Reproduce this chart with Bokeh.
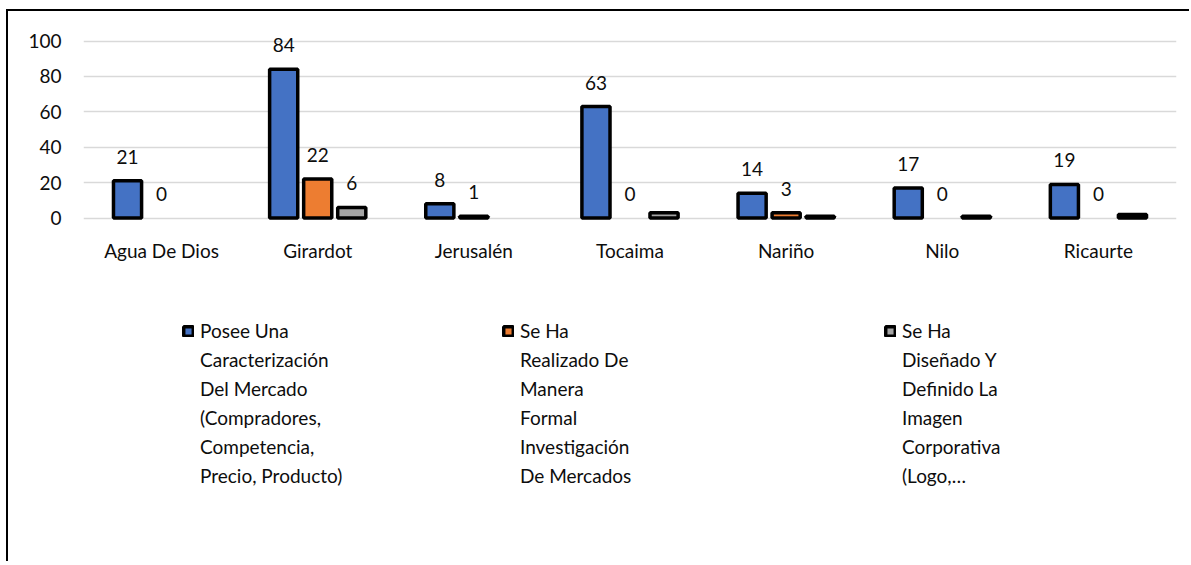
from bokeh.plotting import figure
from bokeh.models import (ColumnDataSource, FactorRange, Range1d, Legend, LegendItem,
                          FixedTicker)
from bokeh.transform import dodge
from bokeh.core.properties import value
from bokeh.embed import file_html
from bokeh.resources import INLINE

# Municipios y resultados por pregunta
municipios = ["Agua De Dios", "Girardot", "Jerusalén", "Tocaima", "Nariño", "Nilo", "Ricaurte"]
caracterizacion = [21, 84, 8, 63, 14, 17, 19]
investigacion = [0, 22, 1, 0, 3, 0, 0]
imagen = [None, 6, None, 3, 1, 1, 2]
imagen_etiquetas = ["", "6", "", "", "", "", ""]
marcas_y = [0, 20, 40, 60, 80, 100]

series_nombres = [
    ["Posee Una", "Caracterización", "Del Mercado", "(Compradores,", "Competencia,", "Precio, Producto)"],
    ["Se Ha", "Realizado De", "Manera", "Formal", "Investigación", "De Mercados"],
    ["Se Ha", "Diseñado Y", "Definido La", "Imagen", "Corporativa", "(Logo,…"],
]
colores = ["#4472C4", "#ED7D31", "#A5A5A5"]

FONT = value("Lato")
FS = "19px"
TXT = "#0d0d0d"

# lienzo desplazado; el marco negro (izquierda y arriba) es una sombra sin desenfoque
p = figure(width=1183, height=552, x_range=FactorRange(*municipios, range_padding=0),
           y_range=Range1d(-169.8, 102), output_backend="svg", toolbar_location=None,
           min_border_left=75, min_border_right=15, min_border_top=26, min_border_bottom=45)
p.styles = {"margin-left": "8px", "margin-top": "11px",
            "box-shadow": "-2px -2px 0px 0px #000000"}
p.outline_line_color = None
p.background_fill_color = "white"
p.border_fill_color = "white"

# ejes
p.yaxis.ticker = FixedTicker(ticks=marcas_y)
p.yaxis.axis_line_color = None
p.yaxis.major_tick_line_color = None
p.yaxis.minor_tick_line_color = None
p.yaxis.major_tick_out = 0
p.yaxis.major_label_standoff = 22
p.xaxis.fixed_location = 0
p.xaxis.axis_line_color = None
p.xaxis.major_tick_line_color = None
p.xaxis.major_tick_out = 0
p.xaxis.major_label_standoff = 21
for ax in (p.xaxis, p.yaxis):
    ax.major_label_text_font = "Lato"
    ax.major_label_text_font_size = FS
    ax.major_label_text_color = TXT
p.xgrid.grid_line_color = None
p.ygrid.grid_line_color = "#d9d9d9"
p.ygrid.grid_line_width = 1.5

offsets = [-0.218, 0.0, 0.218]
datos = [caracterizacion, investigacion, imagen]
etiquetas = [[str(v) for v in caracterizacion], [str(v) for v in investigacion], imagen_etiquetas]

renderers = []
for serie, off, color, lab in zip(datos, offsets, colores, etiquetas):
    cats = [m for m, v in zip(municipios, serie) if v]
    vals = [v for v in serie if v]
    src = ColumnDataSource(dict(municipio=cats, valor=vals))
    r = p.vbar(x=dodge("municipio", off, range=p.x_range), top="valor", bottom=0, width=0.18,
               source=src, fill_color=color, line_color="black", line_width=3.5)
    renderers.append(r)
    lcats = [m for m, t in zip(municipios, lab) if t]
    lvals = [v if v else 0 for v, t in zip(serie, lab) if t]
    ltxt = [t for t in lab if t]
    lsrc = ColumnDataSource(dict(municipio=lcats, valor=lvals, txt=ltxt))
    p.text(x=dodge("municipio", off, range=p.x_range), y="valor", text="txt", source=lsrc,
           text_align="center", text_baseline="middle", y_offset=-24,
           text_font=FONT, text_font_size=FS, text_color=TXT)

# renglones de continuación de la leyenda (sin símbolo)
vacio = p.vbar(x=[], top=[], width=0.1, fill_alpha=0, line_alpha=0)

# leyenda en tres columnas
leg_x = [99, 419, 801]
for r, lineas, lx in zip(renderers, series_nombres, leg_x):
    items = [LegendItem(label=lineas[0], renderers=[r])]
    items += [LegendItem(label=t, renderers=[vacio]) for t in lineas[1:]]
    leg = Legend(items=items, location=(lx, 31), orientation="vertical",
                 glyph_width=12, glyph_height=12, label_height=22, spacing=6,
                 label_standoff=6, padding=0, margin=0,
                 border_line_color=None, background_fill_alpha=0,
                 label_text_font="Lato", label_text_font_size=FS, label_text_color=TXT)
    p.add_layout(leg, "center")

open("out.html", "w").write(file_html(p, INLINE))
